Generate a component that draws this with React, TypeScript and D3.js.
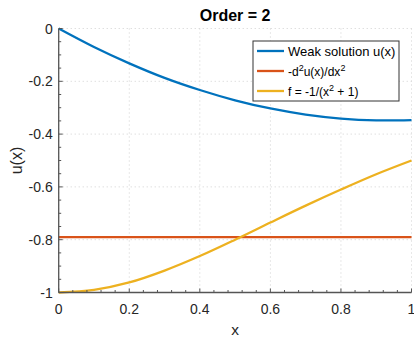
import React from 'react';
import * as d3 from 'd3';

const xs = [0, 0.1, 0.2, 0.3, 0.4, 0.5, 0.6, 0.7, 0.8, 0.9, 1.0];
const weak = [0, -0.070, -0.132, -0.187, -0.233, -0.272, -0.303, -0.326, -0.341, -0.348, -0.347];
const secondDeriv = [-0.79, -0.79, -0.79, -0.79, -0.79, -0.79, -0.79, -0.79, -0.79, -0.79, -0.79];
const forcing = [-1, -0.990, -0.962, -0.917, -0.862, -0.800, -0.735, -0.671, -0.610, -0.552, -0.5];

const xTicks = [0, 0.2, 0.4, 0.6, 0.8, 1];
const yTicks = [0, -0.2, -0.4, -0.6, -0.8, -1];
const xTickLabels = ['0', '0.2', '0.4', '0.6', '0.8', '1'];
const yTickLabels = ['0', '-0.2', '-0.4', '-0.6', '-0.8', '-1'];

const width = 414;
const height = 339;
const margin = { top: 28.5, right: 2.5, bottom: 46.5, left: 58.7 };
const font = 'Liberation Sans, Arial, Helvetica, sans-serif';
const axisColor = '#555';

const App = () => {
  const innerWidth = width - margin.left - margin.right;
  const innerHeight = height - margin.top - margin.bottom;

  const xScale = d3.scaleLinear().domain([0, 1]).range([0, innerWidth]);
  const yScale = d3.scaleLinear().domain([-1, 0]).range([innerHeight, 0]);

  const line = d3.line<number>()
    .x((_, i) => xScale(xs[i]))
    .y(d => yScale(d))
    .curve(d3.curveCatmullRom);

  const xMinor = d3.range(0, 1.0001, 0.04);
  const yMinor = d3.range(-1, 0.0001, 0.05);

  const series = [
    { values: weak, color: '#0072BD' },
    { values: secondDeriv, color: '#D95319' },
    { values: forcing, color: '#EDB120' },
  ];

  const lg = { x: 253, y: 41, w: 146, h: 60 };

  return (
    <svg width={width} height={height} style={{ position: 'absolute', left: 0, top: 0, background: '#fff' }} fontFamily={font}>
      <g transform={`translate(${margin.left},${margin.top})`}>
        {xTicks.map(t => (
          <line key={'gx' + t} x1={xScale(t)} x2={xScale(t)} y1={0} y2={innerHeight}
            stroke="#d0d0d0" strokeWidth={1} strokeDasharray="1,3" />
        ))}
        {yTicks.map(t => (
          <line key={'gy' + t} x1={0} x2={innerWidth} y1={yScale(t)} y2={yScale(t)}
            stroke="#d0d0d0" strokeWidth={1} strokeDasharray="1,3" />
        ))}

        {series.map((s, i) => (
          <path key={i} d={line(s.values) || ''} fill="none" stroke={s.color} strokeWidth={2.3} />
        ))}

        <line x1={0} x2={0} y1={0} y2={innerHeight} stroke={axisColor} strokeWidth={1.3} />
        <line x1={0} x2={innerWidth} y1={innerHeight} y2={innerHeight} stroke={axisColor} strokeWidth={1.3} />
        {xMinor.map((t, i) => (
          <line key={'xm' + i} x1={xScale(t)} x2={xScale(t)} y1={innerHeight} y2={innerHeight - (i % 5 === 0 ? 4 : 2.5)}
            stroke={axisColor} strokeWidth={1} />
        ))}
        {yMinor.map((t, i) => (
          <line key={'ym' + i} x1={0} x2={i % 4 === 0 ? 4 : 2.5} y1={yScale(t)} y2={yScale(t)}
            stroke={axisColor} strokeWidth={1} />
        ))}
        {xTicks.map((t, i) => (
          <text key={'xl' + t} x={xScale(t)} y={innerHeight + 21} textAnchor="middle" fontSize={14} fill="#262626">
            {xTickLabels[i]}
          </text>
        ))}
        {yTicks.map((t, i) => (
          <text key={'yl' + t} x={-6} y={yScale(t) + 5} textAnchor="end" fontSize={14} fill="#262626">
            {yTickLabels[i]}
          </text>
        ))}
        <text x={innerWidth / 2} y={-8} textAnchor="middle" fontSize={16} fontWeight="bold" fill="#000">Order = 2</text>
        <text x={innerWidth / 2} y={innerHeight + 42} textAnchor="middle" fontSize={15.5} fill="#262626">x</text>
        <text transform={`translate(${22 - margin.left},${innerHeight / 2}) rotate(-90)`} textAnchor="middle" fontSize={16} fill="#262626">u(x)</text>
      </g>

      <rect x={lg.x} y={lg.y} width={lg.w} height={lg.h} fill="#fff" stroke="#333" strokeWidth={1} />
      {series.map((s, i) => (
        <line key={'ll' + i} x1={lg.x + 4} x2={lg.x + 31} y1={lg.y + 10 + i * 20} y2={lg.y + 10 + i * 20}
          stroke={s.color} strokeWidth={2.3} />
      ))}
      <text x={lg.x + 35} y={lg.y + 14.5} fontSize={13} fill="#000">Weak solution u(x)</text>
      <text x={lg.x + 35} y={lg.y + 34.5} fontSize={12} fill="#000">
        -d<tspan dy={-5} fontSize={9}>2</tspan><tspan dy={5}>u(x)/dx</tspan><tspan dy={-5} fontSize={9}>2</tspan>
      </text>
      <text x={lg.x + 35} y={lg.y + 54.5} fontSize={12} fill="#000">
        f = -1/(x<tspan dy={-5} fontSize={9}>2</tspan><tspan dy={5}> + 1)</tspan>
      </text>
    </svg>
  );
};

export default App;
